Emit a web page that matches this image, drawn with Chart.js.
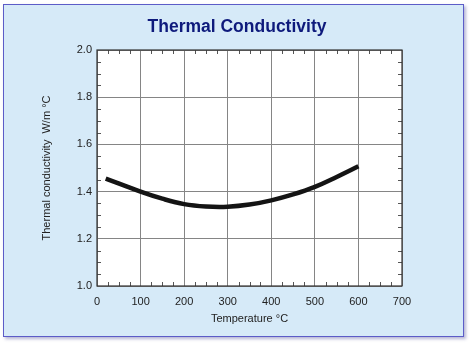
<!DOCTYPE html>
<html>
<head>
<meta charset="utf-8">
<script src="https://cdn.jsdelivr.net/npm/chart.js@4"></script>
<style>
  html, body { margin: 0; padding: 0; background: #ffffff; }
  #panel {
    position: absolute; left: 3px; top: 4px; width: 459px; height: 331px;
    background: #d6eaf8; border: 1.5px solid #5c5cc8;
    box-shadow: 2px 2px 3px rgba(90, 90, 160, 0.45);
  }
  #wrap { position: absolute; left: 0; top: 0; width: 474px; height: 347px; }
</style>
</head>
<body>
<div id="panel"></div>
<div id="wrap"><canvas id="thermalChart" width="474" height="347"></canvas></div>
<script>
// temperature (°C) and conductivity (W/m °C)
var temps = [20, 100, 150, 200, 250, 300, 350, 400, 450, 500, 550, 600];
var conductivity = [1.455, 1.400, 1.370, 1.347, 1.337, 1.336, 1.345, 1.363, 1.388, 1.420, 1.462, 1.507];
var xTicks = [0, 100, 200, 300, 400, 500, 600, 700];
var yTicks = [1.0, 1.2, 1.4, 1.6, 1.8, 2.0];

var points = temps.map(function (t, i) { return { x: t, y: conductivity[i] }; });

// white plot area, frame and small inward minor ticks on all four sides
var frame = {
    id: 'frame',
    beforeDraw: function (chart) {
        var a = chart.chartArea, c = chart.ctx;
        c.save();
        c.fillStyle = '#ffffff';
        c.fillRect(a.left, a.top, a.right - a.left, a.bottom - a.top);
        c.restore();
    },
    afterDatasetsDraw: function (chart) {
        var a = chart.chartArea, c = chart.ctx;
        var xs = chart.scales.x, ys = chart.scales.y;
        c.save();
        c.strokeStyle = '#555555';
        c.lineWidth = 1;
        c.beginPath();
        for (var v = 25; v < 700; v += 25) {
            if (v % 100 === 0) continue;
            var px = Math.round(xs.getPixelForValue(v)) + 0.5;
            c.moveTo(px, a.bottom); c.lineTo(px, a.bottom - 4);
            c.moveTo(px, a.top); c.lineTo(px, a.top + 4);
        }
        for (var k = 1; k < 20; k++) {
            if (k % 4 === 0) continue;
            var py = Math.round(ys.getPixelForValue(1 + k * 0.05)) + 0.5;
            c.moveTo(a.left, py); c.lineTo(a.left + 4, py);
            c.moveTo(a.right, py); c.lineTo(a.right - 4, py);
        }
        c.stroke();
        c.strokeStyle = '#333333';
        c.lineWidth = 1.2;
        c.strokeRect(a.left, a.top, a.right - a.left, a.bottom - a.top);
        c.restore();
    }
};

var ctx = document.getElementById('thermalChart').getContext('2d');
var thermalChart = new Chart(ctx, {
    type: 'line',
    data: {
        datasets: [{
            data: points,
            borderColor: '#141414',
            borderWidth: 4.5,
            pointRadius: 0,
            tension: 0.4,
            fill: false
        }]
    },
    options: {
        responsive: false,
        animation: false,
        layout: { padding: 0 },
        plugins: {
            legend: { display: false },
            tooltip: { enabled: false },
            title: {
                display: true,
                text: 'Thermal Conductivity',
                color: '#0e1a7c',
                font: { family: 'Liberation Sans', size: 17.5, weight: 'bold' },
                padding: { top: 17, bottom: 12 },
                align: 'center'
            }
        },
        scales: {
            x: {
                type: 'linear',
                min: 0,
                max: 700,
                afterBuildTicks: function (s) { s.ticks = xTicks.map(function (v) { return { value: v }; }); },
                afterFit: function (s) { s.height = 61; },
                grid: { color: '#858585', lineWidth: 1, drawTicks: false },
                border: { display: false },
                ticks: {
                    padding: 9,
                    color: '#222222',
                    font: { family: 'Liberation Sans', size: 11 }
                },
                title: {
                    display: true,
                    text: 'Temperature °C',
                    color: '#222222',
                    font: { family: 'Liberation Sans', size: 11 },
                    padding: { top: 0, bottom: 21 }
                }
            },
            y: {
                min: 1.0,
                max: 2.0,
                afterBuildTicks: function (s) { s.ticks = yTicks.map(function (v) { return { value: v }; }); },
                afterFit: function (s) { s.width = 97; },
                grid: { color: '#858585', lineWidth: 1, drawTicks: false },
                border: { display: false },
                ticks: {
                    padding: 5,
                    color: '#222222',
                    font: { family: 'Liberation Sans', size: 11 },
                    callback: function (v) { return Number(v).toFixed(1); }
                },
                title: {
                    display: true,
                    text: 'Thermal conductivity  W/m °C',
                    color: '#222222',
                    font: { family: 'Liberation Sans', size: 11 },
                    padding: { top: 40, bottom: 0 }
                }
            },
            // empty right-hand axis: only reserves the blank margin right of the plot
            yRight: {
                position: 'right',
                min: 1.0,
                max: 2.0,
                afterFit: function (s) { s.width = 72; },
                grid: { display: false, drawTicks: false },
                border: { display: false },
                ticks: { display: false }
            }
        }
    },
    plugins: [frame]
});
</script>
</body>
</html>
